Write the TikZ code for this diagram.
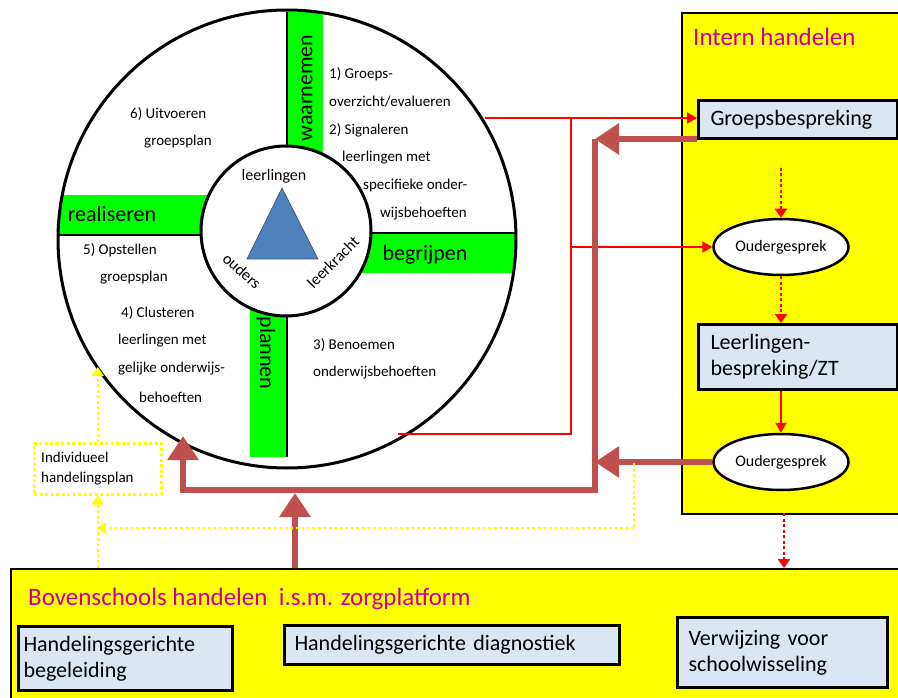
\documentclass[tikz,border=0pt]{standalone}
\usepackage{fontspec}
\setmainfont{Carlito}
\usetikzlibrary{arrows.meta,shapes.geometric,calc}
\definecolor{mag}{RGB}{204,0,153}
\definecolor{brn}{RGB}{192,80,77}
\definecolor{lblue}{RGB}{220,230,242}
\definecolor{tri}{RGB}{79,129,189}
\definecolor{grn}{RGB}{0,255,0}
\definecolor{ylw}{RGB}{255,255,0}
\tikzset{
  bigfont/.style={font=\fontsize{22}{26}\selectfont},
  titlefont/.style={font=\fontsize{25}{29}\selectfont, text=mag},
  qt/.style={font=\fontsize{15}{18}\selectfont, anchor=west, inner sep=0pt},
  bluebox/.style={draw, line width=3pt, fill=lblue, font=\fontsize{22}{26}\selectfont, align=left, anchor=north west, inner ysep=2pt},
  ellbox/.style={ellipse, draw, line width=2.5pt, fill=white, minimum width=135pt, minimum height=56pt, inner sep=0pt, font=\fontsize{16}{19}\selectfont},
  container/.style={draw, line width=2pt, fill=ylw, anchor=north west, inner sep=0pt},
  redarr/.style={draw=red, line width=2pt, -{Triangle[length=10pt,width=11pt]}},
  redline/.style={draw=red, line width=2pt},
  reddot/.style={draw=red, line width=2.5pt, dash pattern=on 3pt off 2.5pt, -{Triangle[length=9pt,width=12pt]}},
  brnline/.style={draw=brn, line width=6pt},
  brnarr/.style={draw=brn, line width=6pt, -{Triangle[length=24pt,width=30pt]}},
  ylwdot/.style={draw=ylw, line width=2.5pt, dash pattern=on 3pt off 2.5pt},
  ylwarr/.style={ylwdot, -{Triangle[length=9pt,width=12pt]}},
}
\begin{document}
\begin{tikzpicture}[x=1pt,y=-1pt]
\useasboundingbox (0,0) rectangle (898,698);
\fill[white] (0,0) rectangle (898,698);

% containers
\node[container, minimum width=220pt, minimum height=501pt] (ib) at (681,12) {};
\node[titlefont, anchor=west, inner sep=0pt] (ibt) at (693,37) {Intern handelen};
\node[container, minimum width=892pt, minimum height=140pt] (bb) at (10,568) {};
\node[titlefont, anchor=west, inner sep=0pt] (bbt) at (28,599) {Bovenschools handelen\ \ i.s.m. zorgplatform};

% green bars
\begin{scope}
\clip (287,239) circle[radius=229pt];
\fill[grn] (288,12) rectangle (323,160);
\fill[grn] (40,195) rectangle (210,235);
\fill[grn] (360,233) rectangle (530,273);
\fill[grn] (250,300) rectangle (287,457);
\draw[line width=2.5pt] (287,12) -- (287,457);
\draw[line width=2.5pt] (40,235) -- (287,235);
\draw[line width=2.5pt] (287,233) -- (530,233);
\end{scope}
\node[circle, draw, line width=3pt, minimum size=458pt, inner sep=0pt] (oc) at (287,239) {};
\node[circle, draw, line width=3pt, fill=white, minimum size=170pt, inner sep=0pt] (ic) at (286,231) {};

\node[bigfont, rotate=90] (wn) at (307,88) {waarnemen};
\node[bigfont] (rs) at (112,214) {realiseren};
\node[bigfont] (bg) at (425,255) {begrijpen};
\node[bigfont, rotate=-90] (pl) at (266,353) {plannen};

% triangle
\draw[fill=tri, draw=tri!60!black, line width=0.6pt] (282,188) -- (318,259) -- (247,259) -- cycle;
\node[font=\fontsize{16}{19}\selectfont] (ll) at (274,176) {leerlingen};
\node[font=\fontsize{16}{19}\selectfont, rotate=-42] (ou) at (242,271) {ouders};
\node[font=\fontsize{16}{19}\selectfont, rotate=45] (lk) at (333,262) {leerkracht};

% quadrant texts
\node[qt] (q1a) at (329,74) {1) Groeps-};
\node[qt] (q1b) at (329,102) {overzicht/evalueren};
\node[qt] (q2a) at (329,130) {2) Signaleren};
\node[qt] (q2b) at (342,158) {leerlingen met};
\node[qt] (q2c) at (363,186) {specifieke onder-};
\node[qt] (q2d) at (380,214) {wijsbehoeften};
\node[qt] (q6a) at (130,114) {6) Uitvoeren};
\node[qt] (q6b) at (144,142) {groepsplan};
\node[qt] (q5a) at (83,250) {5) Opstellen};
\node[qt] (q5b) at (100,278) {groepsplan};
\node[qt] (q4a) at (121,313) {4) Clusteren};
\node[qt] (q4b) at (118,341) {leerlingen met};
\node[qt] (q4c) at (118,369) {gelijke onderwijs-};
\node[qt] (q4d) at (139,397) {behoeften};
\node[qt] (q3a) at (313,345) {3) Benoemen};
\node[qt] (q3b) at (313,373) {onderwijsbehoeften};

% intern nodes
\node[bluebox, text width=175pt, inner xsep=12pt, minimum height=38pt] (gb) at (697,99) {Groepsbespreking};
\node[ellbox] (e1) at (781,247) {Oudergesprek};
\node[bluebox, text width=175pt, inner xsep=12pt, minimum height=65pt] (lb) at (697,323) {Leerlingen-\\bespreking/ZT};
\node[ellbox] (e2) at (781,462) {Oudergesprek};

% bottom nodes
\node[bluebox, text width=204pt, inner xsep=5pt, minimum height=64pt] (hb) at (17,625) {Handelingsgerichte\\begeleiding};
\node[bluebox, text width=315pt, inner xsep=10pt, minimum height=39pt] (hd) at (283,624) {Handelingsgerichte diagnostiek};
\node[bluebox, text width=188pt, inner xsep=11pt, minimum height=70pt] (vw) at (676,616) {Verwijzing voor\\schoolwisseling};

% individueel
\node[draw=ylw, line width=2.5pt, dash pattern=on 3pt off 2.5pt, fill=white, anchor=north west, minimum width=127pt, minimum height=51pt, text width=113pt, inner xsep=7pt, align=left, font=\fontsize{15}{20}\selectfont] (ih) at (33,442) {Individueel\\handelingsplan};

% red connectors
\coordinate (r0) at (485,118);
\coordinate (r1) at (571,118);
\coordinate (r2) at (571,434);
\coordinate (r3) at (398,434);
\coordinate (r4) at (571,247);
\draw[redarr] (r0) -- (r0 -| gb.west);
\draw[redline] (r1) -- (r2) -- (r3);
\draw[redarr] (r4) -- (e1.west);
\coordinate (d0) at (781,168);
\draw[reddot] (d0) -- (e1.north);
\draw[reddot] (e1.south) -- (lb.north -| e1.south);
\draw[redarr] (lb.south -| e2.north) -- (e2.north);
\coordinate (d1) at (784,513);
\draw[reddot] (d1) -- (d1 |- bb.north);

% brown connectors
\coordinate (bA) at (595,139);
\coordinate (bB) at (595,490);
\coordinate (bC) at (183,490);
\coordinate (bD) at (183,436);
\coordinate (bE) at (295,493);
\draw[brnline] (bA) -- (bB) -- (bC) -- ($(bC)+(0,-10)$);
\draw[brnarr] (gb.south west) ++(0,-1) -- (bA);
\draw[brnarr] (bC) ++(0,3) -- (bD);
\draw[brnarr] (e2.west) -- (e2.west -| bA);
\draw[brnarr] (bE |- bb.north) -- (bE);

% yellow connectors
\coordinate (y0) at (634,463);
\coordinate (y1) at (634,528);
\coordinate (y2) at (97,528);
\coordinate (yt) at (97,367);
\draw[ylwdot] (y0) -- (y1);
\draw[ylwarr] (y1) -- (y2);
\draw[ylwarr] (ih.south |- bb.north) -- (ih.south);
\draw[ylwarr] (ih.north) -- (ih.north |- yt);
\end{tikzpicture}
\end{document}
